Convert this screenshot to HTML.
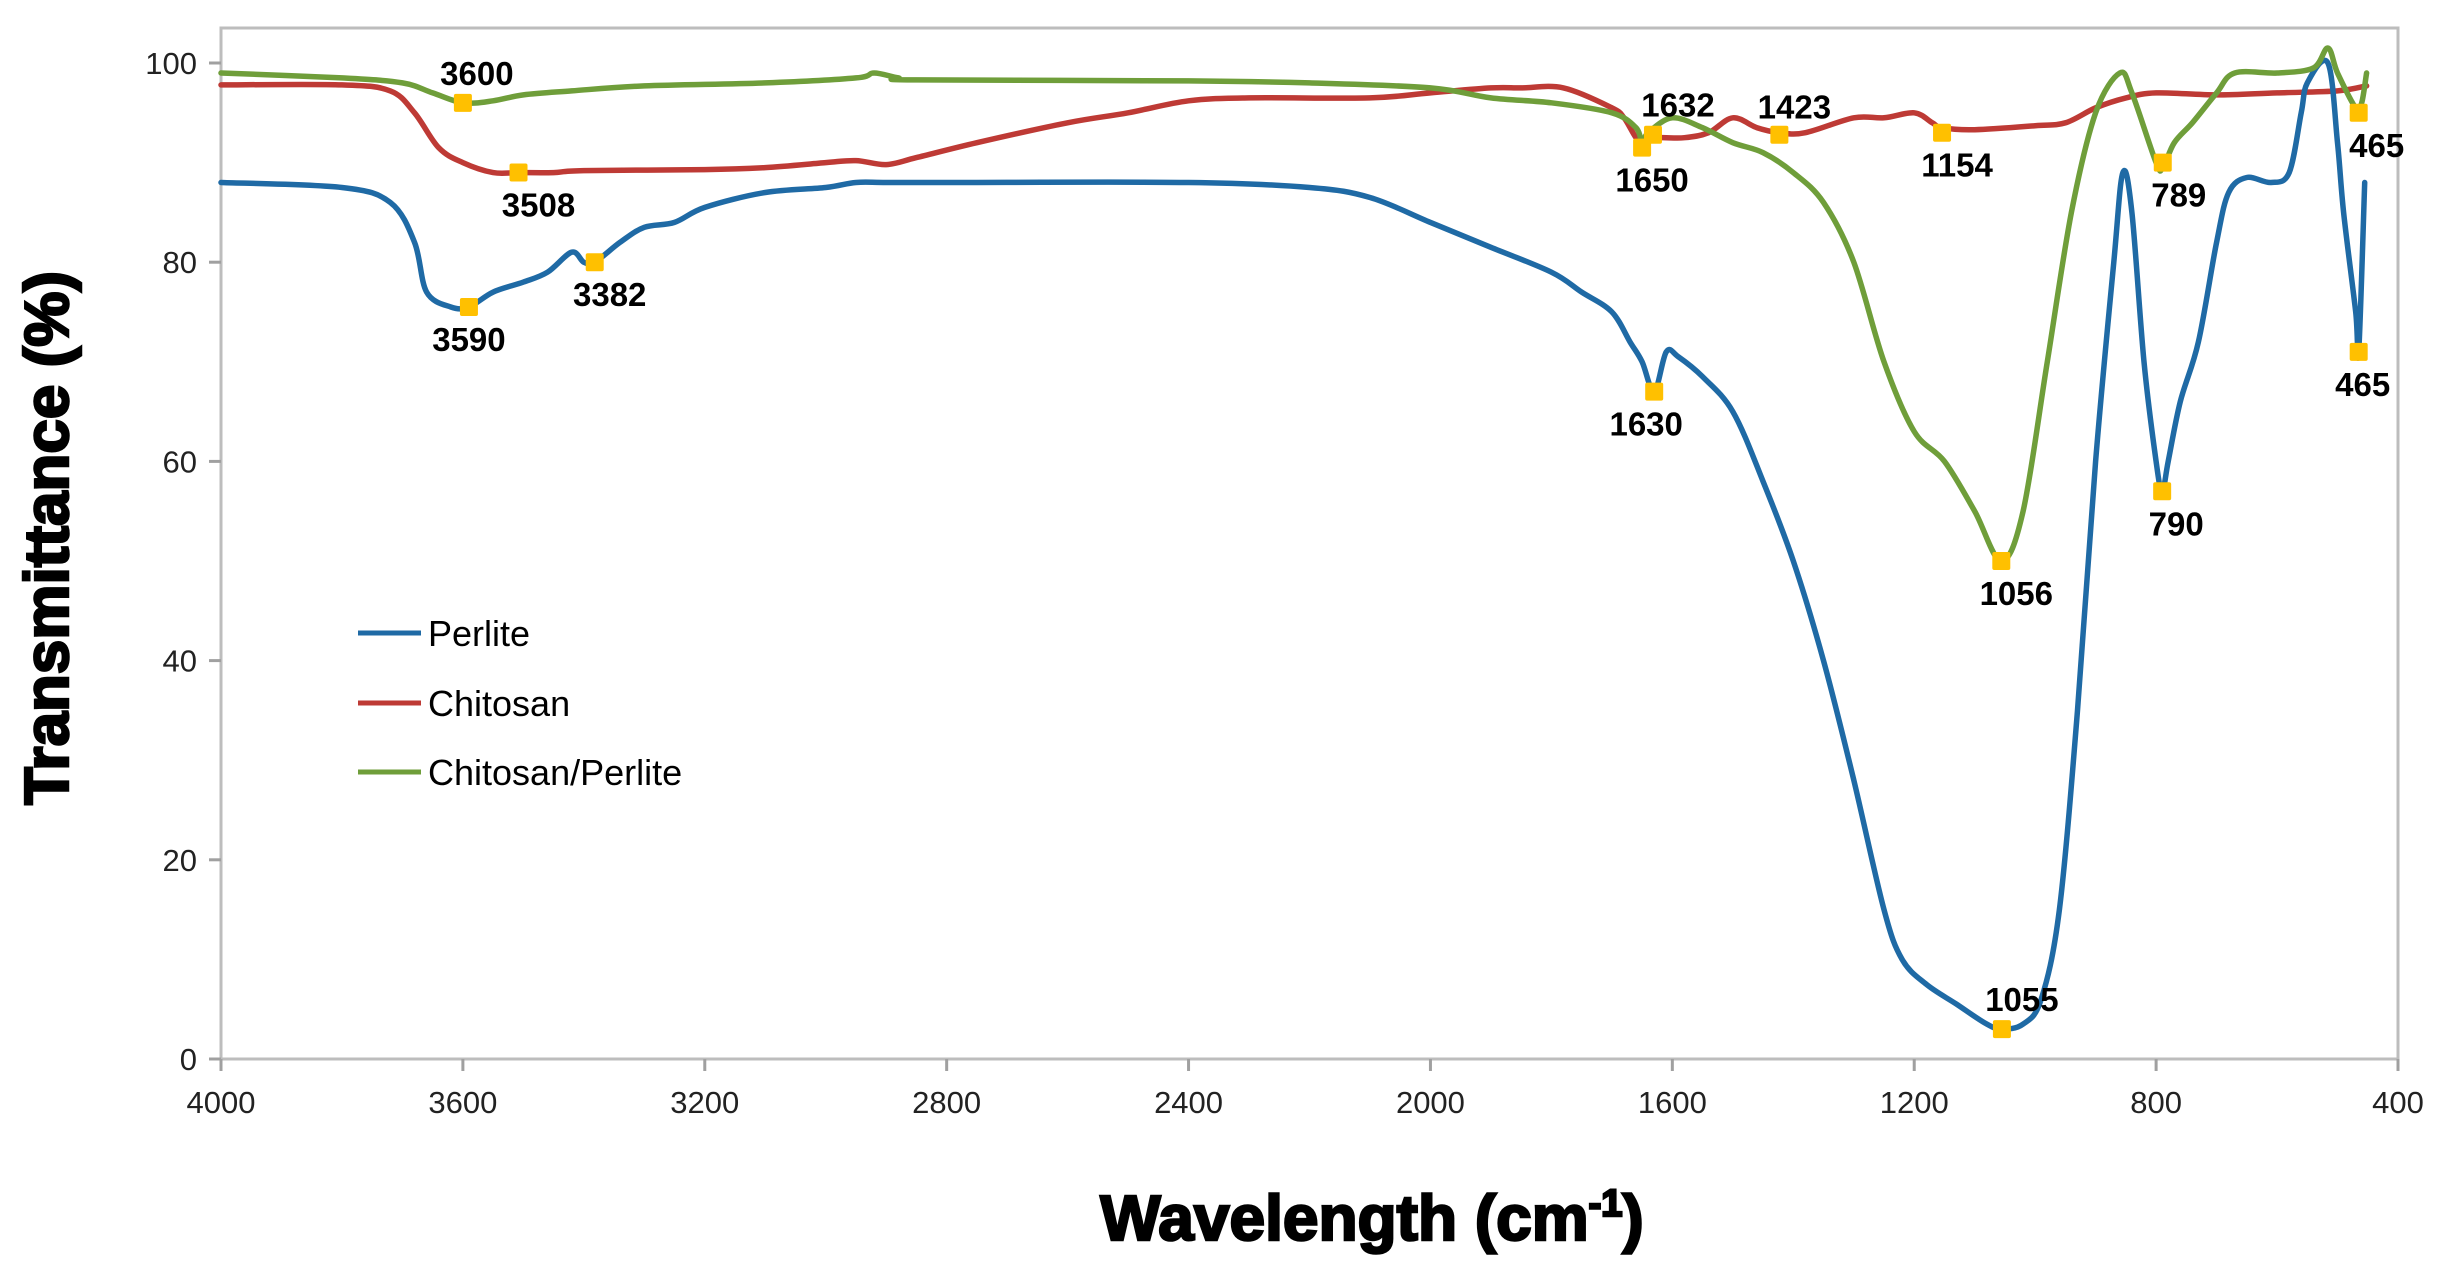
<!DOCTYPE html>
<html><head><meta charset="utf-8"><style>
body{margin:0;background:#fff;}
svg{display:block;font-family:"Liberation Sans",sans-serif;}
</style></head><body>
<svg id="chart" width="2444" height="1277">
<rect x="221" y="28" width="2177" height="1031" fill="none" stroke="#bdbdbd" stroke-width="3"/>
<g id="ticks"></g>
<g id="series"></g>
<g id="markers"></g>
<text transform="translate(68,538) rotate(-90)" text-anchor="middle" font-size="62" font-weight="bold" stroke="#000" stroke-width="2.5">Transmittance (%)</text>
<text x="1372" y="1240" text-anchor="middle" font-size="64" font-weight="bold" stroke="#000" stroke-width="2.5">Wavelength (cm<tspan font-size="38" dy="-24">-1</tspan><tspan dy="24">)</tspan></text>
<g>
<line x1="358" y1="633" x2="421" y2="633" stroke="#1f6aa5" stroke-width="5"/>
<text x="428" y="646" font-size="36">Perlite</text>
<line x1="358" y1="703" x2="421" y2="703" stroke="#be3a35" stroke-width="5"/>
<text x="428" y="716" font-size="36">Chitosan</text>
<line x1="358" y1="772" x2="421" y2="772" stroke="#6f9e3a" stroke-width="5"/>
<text x="428" y="785" font-size="36">Chitosan/Perlite</text>
</g>
</svg>
<script>
const xTicks=[4000,3600,3200,2800,2400,2000,1600,1200,800,400];
const yTicks=[0,20,40,60,80,100];
const perliteX=[4000,3800,3720,3680,3660,3620,3590,3550,3500,3460,3420,3400,3382,3340,3300,3250,3200,3100,3000,2950,2900,2800,2400,2200,2100,2000,1900,1800,1750,1700,1670,1650,1630,1610,1590,1550,1500,1450,1400,1350,1300,1250,1220,1180,1130,1080,1055,1020,990,960,930,900,870,855,840,820,800,790,780,760,730,700,680,650,610,580,560,550,516,500,490,470,465,455];
const perliteY=[88,87.5,86,82,77,75.5,75.5,77,78,79,81,80,80,82,83.5,84,85.5,87,87.5,88,88,88,88,87.5,86.5,84,81.5,79,77,75,72,70,67,71,70.5,68.5,65,58,50,40,28,15,10,7.5,5.5,3.5,3,3.5,6,15,35,60,80,89,85,70,60,57,60,66,72,82,87,88.5,88,89,95,98,100,92,85,75,71,88];
const chitosanX=[4000,3800,3720,3680,3640,3600,3550,3508,3450,3400,3200,3100,3000,2950,2900,2850,2750,2600,2500,2400,2300,2100,2000,1900,1850,1780,1700,1680,1660,1650,1620,1580,1540,1500,1460,1423,1380,1300,1250,1200,1170,1154,1100,1000,950,900,850,800,700,600,500,452];
const chitosanY=[97.8,97.8,97.2,95,91.5,90,89,89,89,89.2,89.3,89.5,90,90.2,89.8,90.5,92,94,95,96.2,96.5,96.5,97,97.5,97.5,97.5,95.5,94.5,92.5,92.3,92.5,92.5,93,94.5,93.5,93,93,94.5,94.5,95,94,93.5,93.3,93.7,94,95.5,96.5,97,96.8,97,97.2,97.7];
const compositeX=[4000,3800,3700,3650,3600,3550,3500,3420,3300,3100,2950,2920,2880,2850,2400,2200,2000,1900,1800,1700,1660,1650,1640,1600,1550,1500,1450,1400,1350,1300,1250,1200,1150,1100,1056,1020,980,940,900,860,840,800,789,770,740,700,670,600,540,516,500,470,460,452];
const compositeY=[99,98.5,98,97,96,96.2,96.8,97.2,97.7,98,98.5,99,98.5,98.3,98.2,98,97.5,96.5,96,95,93.5,92,93,94.5,93.5,92,91,89,86,80,70,63,60,55,50,55,70,85,95,99,97,90,89.5,92,94,97,99,99,99.5,101.5,99,95.5,96,99];
const markX=[3600,3508,3590,3382,1650,1632,1423,1154,1630,1056,1055,789,790,465,465];
const markY=[96,89,75.5,80,91.5,92.8,92.8,93,67,50,3,90,57,95,71];
const markLabels=["3600","3508","3590","3382","1650","1632","1423","1154","1630","1056","1055","789","790","465","465"];
const labelDX=[14,20,0,15,10,25,15,15,-8,15,20,16,14,18,4];
const labelDY=[-18,44,44,44,44,-18,-16,44,44,44,-18,44,44,44,44];

const NS="http://www.w3.org/2000/svg";
const X0=221,X1=2398,Y0=1059,Y100=63;
function sx(w){return X0+(4000-w)/3600*(X1-X0);}
function sy(v){return Y0-v/100*(Y0-Y100);}
function mk(tag,attrs,parent){const e=document.createElementNS(NS,tag);for(const k in attrs)e.setAttribute(k,attrs[k]);parent.appendChild(e);return e;}
const ticks=document.getElementById('ticks');
xTicks.forEach(t=>{
  const l=mk('line',{x1:sx(t),x2:sx(t),y1:Y0,y2:Y0+12,stroke:'#a0a0a0','stroke-width':3},ticks);
  
  
  const tx=mk('text',{x:sx(t),y:Y0+54,'text-anchor':'middle','font-size':31,fill:'#222'},ticks);
  tx.textContent=t;
  
  
});
yTicks.forEach(t=>{
  const l=mk('line',{x1:X0-12,x2:X0,y1:sy(t),y2:sy(t),stroke:'#a0a0a0','stroke-width':3},ticks);
  
  
  const tx=mk('text',{x:X0-24,y:sy(t)+11,'text-anchor':'end','font-size':31,fill:'#222'},ticks);
  tx.textContent=t;
  
  
});
const series=document.getElementById('series');
function smoothPath(xs,ys){
  const P=xs.map((x,i)=>[sx(x),sy(ys[i])]);
  let d='M'+P[0][0].toFixed(1)+','+P[0][1].toFixed(1);
  for(let i=0;i<P.length-1;i++){
    const p0=P[i-1]||P[i],p1=P[i],p2=P[i+1],p3=P[i+2]||P[i+1];
    const c1=[p1[0]+(p2[0]-p0[0])/6,p1[1]+(p2[1]-p0[1])/6];
    const c2=[p2[0]-(p3[0]-p1[0])/6,p2[1]-(p3[1]-p1[1])/6];
    d+=' C'+c1[0].toFixed(1)+','+c1[1].toFixed(1)+' '+c2[0].toFixed(1)+','+c2[1].toFixed(1)+' '+p2[0].toFixed(1)+','+p2[1].toFixed(1);
  }
  return d;
}
function line(xs,ys,color,name){
  const p=mk('path',{d:smoothPath(xs,ys),fill:'none',stroke:color,'stroke-width':5.5,'stroke-linejoin':'round','stroke-linecap':'round'},series);
  
  
}
line(chitosanX,chitosanY,'#be3a35','chitosan-line');
line(perliteX,perliteY,'#1f6aa5','perlite-line');
line(compositeX,compositeY,'#6f9e3a','chitosan-perlite-line');
const markers=document.getElementById('markers');
markX.forEach((w,i)=>{
  const r=mk('rect',{x:sx(w)-9,y:sy(markY[i])-9,width:18,height:18,rx:2,fill:'#ffc000'},markers);
  
  
  const t=mk('text',{x:sx(w)+labelDX[i],y:sy(markY[i])+labelDY[i],'text-anchor':'middle','font-size':33,'font-weight':'bold'},markers);
  t.textContent=markLabels[i];
  
  
});
</script>
</body></html>
